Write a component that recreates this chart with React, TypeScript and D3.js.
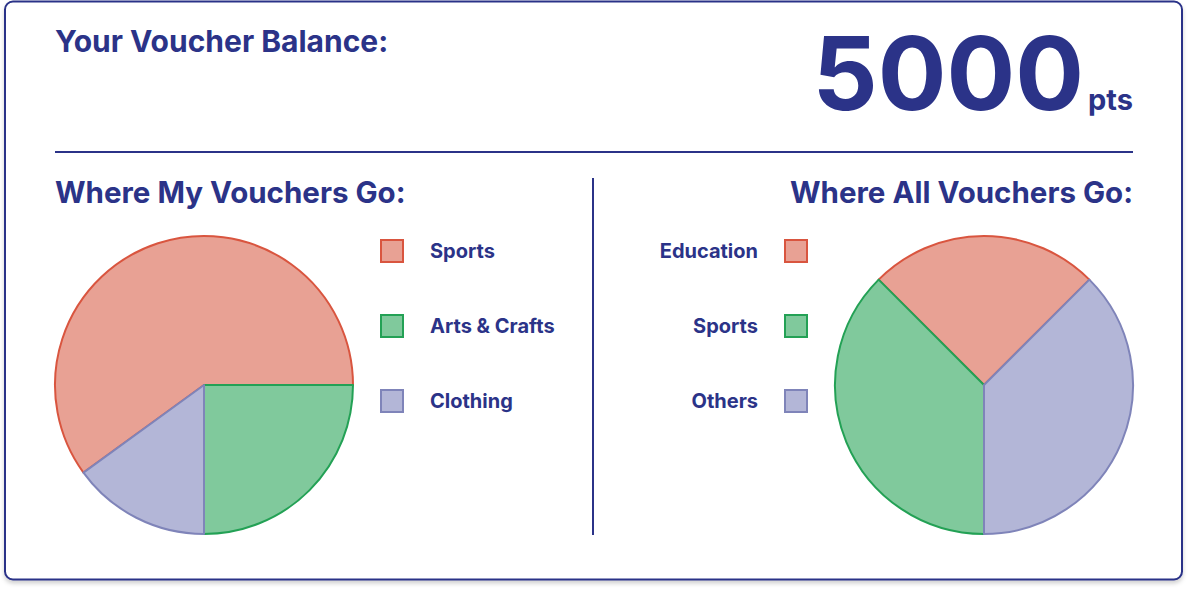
import { useEffect, useRef } from "react"
import * as d3 from "d3"

const NAVY = "#2b3388"
const FONT = "Inter, 'Noto Sans', sans-serif"

const balance = 5000
const balanceUnit = "pts"

const myCategories = ["Sports", "Arts & Crafts", "Clothing"]
const myValues = [60, 25, 15]

const allCategories = ["Education", "Sports", "Others"]
const allValues = [25, 37.5, 37.5]

const fills = ["#e8a194", "#80c99c", "#b3b6d7"]
const strokes = ["#d9553f", "#23a155", "#7f84b9"]

export default function App() {
  const ref = useRef<SVGSVGElement>(null)
  useEffect(() => {
    if (!ref.current) return
    const svg = d3.select(ref.current)
    svg.selectAll("*").remove()

    const defs = svg.append("defs")
    const f = defs.append("filter").attr("id", "shadow").attr("x", "-5%").attr("y", "-5%").attr("width", "110%").attr("height", "115%")
    f.append("feDropShadow").attr("dx", 0).attr("dy", 3).attr("stdDeviation", 2).attr("flood-color", "#000").attr("flood-opacity", 0.18)

    // card
    svg.append("rect").attr("x", 5).attr("y", 1.5).attr("width", 1177).attr("height", 578).attr("rx", 8)
      .attr("fill", "#fff").attr("stroke", NAVY).attr("stroke-width", 2).attr("filter", "url(#shadow)")

    const txt = (x: number, y: number, s: string, size: number, anchor = "start") =>
      svg.append("text").attr("x", x).attr("y", y).attr("text-anchor", anchor)
        .style("font-family", FONT).style("font-weight", 700).style("font-size", `${size}px`).style("fill", NAVY).text(s)

    txt(55, 52, "Your Voucher Balance:", 30)
    const unit = txt(1133, 110, balanceUnit, 29, "end")
    const uw = (unit.node() as SVGTextElement).getComputedTextLength()
    txt(1133 - uw - 4, 110, String(balance), 102, "end")

    svg.append("line").attr("x1", 55).attr("x2", 1133).attr("y1", 152).attr("y2", 152).attr("stroke", NAVY).attr("stroke-width", 2)
    svg.append("line").attr("x1", 593).attr("x2", 593).attr("y1", 178).attr("y2", 535).attr("stroke", NAVY).attr("stroke-width", 2)

    txt(55, 203, "Where My Vouchers Go:", 29.5)
    txt(1133, 203, "Where All Vouchers Go:", 29.5, "end")

    const R = 149
    const arc = d3.arc<d3.PieArcDatum<number>>().innerRadius(0).outerRadius(R)

    const drawPie = (cx: number, values: number[], start: number, end: number) => {
      const pie = d3.pie<number>().value(d => d).sort(null).startAngle(start).endAngle(end)
      const g = svg.append("g").attr("transform", `translate(${cx},385)`)
      g.selectAll("path").data(pie(values)).join("path")
        .attr("d", arc).attr("fill", (_, i) => fills[i]).attr("stroke", (_, i) => strokes[i])
        .attr("stroke-width", 2).attr("stroke-linejoin", "round")
    }
    const deg = Math.PI / 180
    drawPie(204, myValues, 90 * deg - 0.6 * 2 * Math.PI, 90 * deg + 0.4 * 2 * Math.PI)
    drawPie(984, allValues, 45 * deg, 45 * deg - 2 * Math.PI)

    const legendY = d3.scalePoint<number>().domain([0, 1, 2]).range([251, 401])

    myCategories.forEach((c, i) => {
      const y = legendY(i)!
      svg.append("rect").attr("x", 381).attr("y", y - 11).attr("width", 22).attr("height", 22)
        .attr("fill", fills[i]).attr("stroke", strokes[i]).attr("stroke-width", 2)
      txt(430, y + 7, c, 20)
    })
    allCategories.forEach((c, i) => {
      const y = legendY(i)!
      svg.append("rect").attr("x", 785).attr("y", y - 11).attr("width", 22).attr("height", 22)
        .attr("fill", fills[i]).attr("stroke", strokes[i]).attr("stroke-width", 2)
      txt(758, y + 7, c, 20, "end")
    })
  }, [])
  return <svg ref={ref} width={1188} height={590} style={{ position: "absolute", left: 0, top: 0, display: "block" }} />
}
